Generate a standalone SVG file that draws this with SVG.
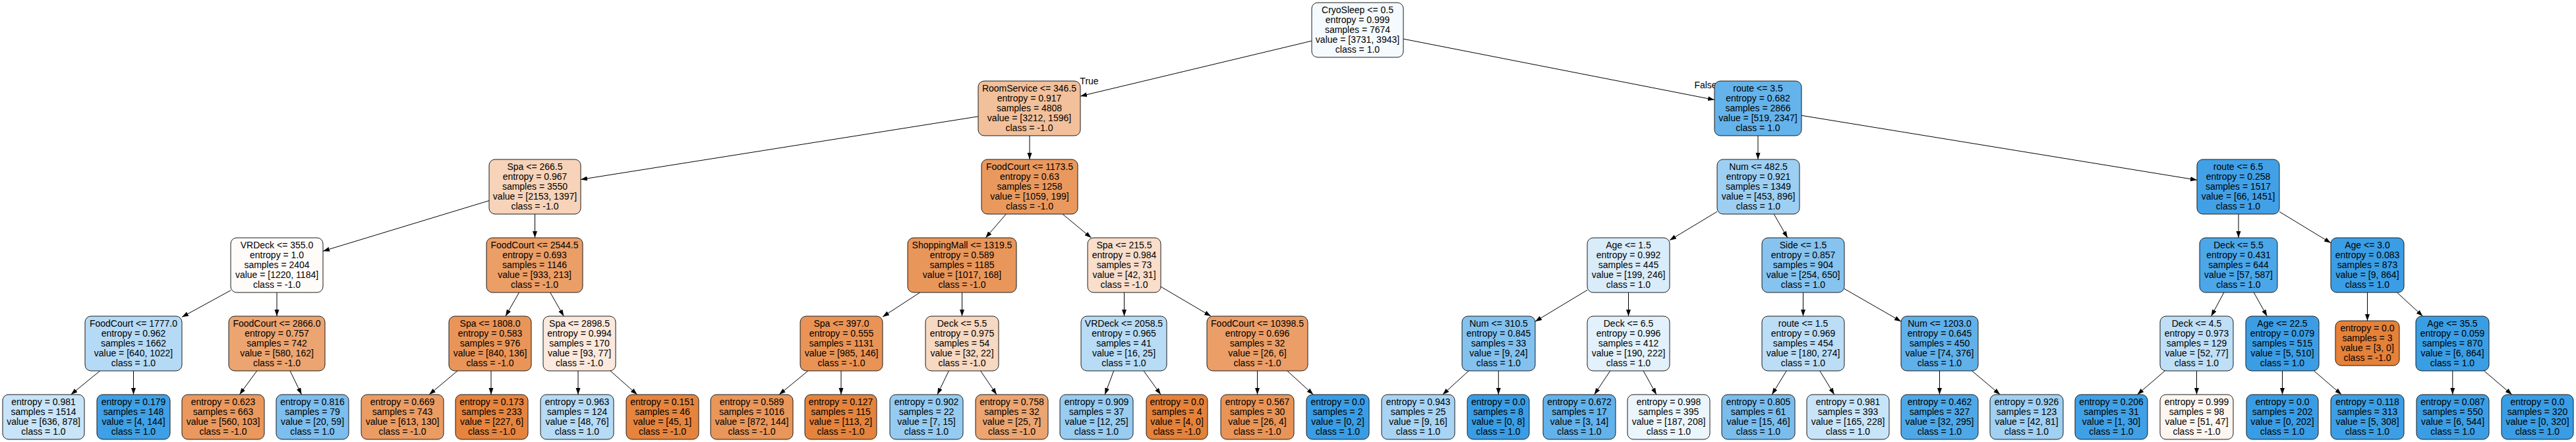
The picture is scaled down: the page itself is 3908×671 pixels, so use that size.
<svg xmlns="http://www.w3.org/2000/svg" width="3908" height="671" viewBox="0 0 3908 671">
<style>
.node rect{stroke:#1a1a1a;stroke-width:1}
text{font-family:"Liberation Sans",Arial,Helvetica,sans-serif;font-size:14px;text-anchor:middle;fill:#000}
.edges line{stroke:#000;stroke-width:1;marker-end:url(#arr)}
</style>
<defs>
<marker id="arr" markerUnits="userSpaceOnUse" markerWidth="10" markerHeight="8" refX="10" refY="3.5" orient="auto">
<path d="M0,0 L10,3.5 L0,7 z" fill="#000"/>
</marker>
</defs>
<rect width="3908" height="671" fill="#fff"/>
<g id="connectors" class="edges">
<line x1="1990" y1="62.1" x2="1639" y2="146"/>
<line x1="2129" y1="59.1" x2="2601" y2="151.6"/>
<line x1="1484" y1="176.8" x2="881" y2="272.5"/>
<line x1="1562" y1="206" x2="1562" y2="242"/>
<line x1="2667" y1="206" x2="2667" y2="242"/>
<line x1="2733" y1="175.3" x2="3333" y2="273.3"/>
<line x1="742" y1="304.6" x2="490" y2="381.2"/>
<line x1="811.5" y1="325" x2="811.5" y2="361"/>
<line x1="1526.3" y1="325" x2="1495.2" y2="361"/>
<line x1="1612" y1="325" x2="1655.5" y2="361"/>
<line x1="2605" y1="321.3" x2="2533" y2="364.7"/>
<line x1="2691.2" y1="325" x2="2711.8" y2="361"/>
<line x1="3396" y1="325" x2="3396" y2="361"/>
<line x1="3458" y1="321.4" x2="3536" y2="368.8"/>
<line x1="350" y1="440.8" x2="276" y2="481.3"/>
<line x1="420" y1="444" x2="420" y2="480"/>
<line x1="787.5" y1="444" x2="767" y2="480"/>
<line x1="834.7" y1="444" x2="855.3" y2="480"/>
<line x1="1395.7" y1="444" x2="1339" y2="480.9"/>
<line x1="1459.5" y1="444" x2="1459.5" y2="480"/>
<line x1="1705.5" y1="444" x2="1705.5" y2="480"/>
<line x1="1761" y1="435.2" x2="1837.1" y2="480"/>
<line x1="2408" y1="440.3" x2="2329" y2="488"/>
<line x1="2470.5" y1="444" x2="2470.5" y2="480"/>
<line x1="2735.5" y1="444" x2="2735.5" y2="480"/>
<line x1="2798" y1="438.4" x2="2884" y2="487.9"/>
<line x1="3373.9" y1="444" x2="3354.6" y2="480"/>
<line x1="3419.2" y1="444" x2="3439.3" y2="480"/>
<line x1="3591.5" y1="444" x2="3591.5" y2="487"/>
<line x1="3636.5" y1="444" x2="3675.5" y2="480"/>
<line x1="151.7" y1="563" x2="107.6" y2="599"/>
<line x1="202.5" y1="563" x2="202.5" y2="599"/>
<line x1="389.7" y1="563" x2="363.4" y2="599"/>
<line x1="440.1" y1="563" x2="457.5" y2="599"/>
<line x1="694" y1="563" x2="651.1" y2="599"/>
<line x1="745" y1="563" x2="745" y2="599"/>
<line x1="877" y1="563" x2="877" y2="599"/>
<line x1="925.9" y1="563" x2="966.6" y2="599"/>
<line x1="1225.9" y1="563" x2="1182" y2="599"/>
<line x1="1276" y1="563" x2="1276" y2="599"/>
<line x1="1439.4" y1="563" x2="1422" y2="599"/>
<line x1="1487.6" y1="563" x2="1512" y2="599"/>
<line x1="1689.6" y1="563" x2="1676.2" y2="599"/>
<line x1="1735" y1="563" x2="1761" y2="599"/>
<line x1="1907.5" y1="563" x2="1907.5" y2="599"/>
<line x1="1952.9" y1="563" x2="1992.3" y2="599"/>
<line x1="2228.1" y1="563" x2="2188.7" y2="599"/>
<line x1="2273.3" y1="563" x2="2273.3" y2="599"/>
<line x1="2442.8" y1="563" x2="2418.7" y2="599"/>
<line x1="2493.2" y1="563" x2="2512.9" y2="599"/>
<line x1="2710.2" y1="563" x2="2688.2" y2="599"/>
<line x1="2760.8" y1="563" x2="2782.8" y2="599"/>
<line x1="2942.5" y1="563" x2="2942.5" y2="599"/>
<line x1="2991.6" y1="563" x2="3034.3" y2="599"/>
<line x1="3284.3" y1="563" x2="3242.5" y2="599"/>
<line x1="3332.5" y1="563" x2="3332.5" y2="599"/>
<line x1="3462.5" y1="563" x2="3462.5" y2="599"/>
<line x1="3510.5" y1="563" x2="3552.2" y2="599"/>
<line x1="3720.8" y1="563" x2="3720.8" y2="599"/>
<line x1="3768.5" y1="563" x2="3810.8" y2="599"/>
<text x="1652.5" y="128">True</text>
<text x="2587.5" y="134">False</text>
</g>
<g id="n0" class="node"><rect x="1990" y="4" width="139" height="83" rx="9" fill="#f4fafe"/><text x="2059.5" y="20">CryoSleep &lt;= 0.5<tspan x="2059.5" dy="15">entropy = 0.999</tspan><tspan x="2059.5" dy="15">samples = 7674</tspan><tspan x="2059.5" dy="15">value = [3731, 3943]</tspan><tspan x="2059.5" dy="15">class = 1.0</tspan></text></g>
<g id="n1" class="node"><rect x="1484" y="123" width="155" height="83" rx="9" fill="#f2c09b"/><text x="1561.5" y="139">RoomService &lt;= 346.5<tspan x="1561.5" dy="15">entropy = 0.917</tspan><tspan x="1561.5" dy="15">samples = 4808</tspan><tspan x="1561.5" dy="15">value = [3212, 1596]</tspan><tspan x="1561.5" dy="15">class = -1.0</tspan></text></g>
<g id="n2" class="node"><rect x="2601" y="123" width="132" height="83" rx="9" fill="#65b3eb"/><text x="2667" y="139">route &lt;= 3.5<tspan x="2667" dy="15">entropy = 0.682</tspan><tspan x="2667" dy="15">samples = 2866</tspan><tspan x="2667" dy="15">value = [519, 2347]</tspan><tspan x="2667" dy="15">class = 1.0</tspan></text></g>
<g id="n3" class="node"><rect x="742" y="242" width="139" height="83" rx="9" fill="#f6d3b9"/><text x="811.5" y="258">Spa &lt;= 266.5<tspan x="811.5" dy="15">entropy = 0.967</tspan><tspan x="811.5" dy="15">samples = 3550</tspan><tspan x="811.5" dy="15">value = [2153, 1397]</tspan><tspan x="811.5" dy="15">class = -1.0</tspan></text></g>
<g id="n4" class="node"><rect x="1489" y="242" width="146" height="83" rx="9" fill="#ea995e"/><text x="1562" y="258">FoodCourt &lt;= 1173.5<tspan x="1562" dy="15">entropy = 0.63</tspan><tspan x="1562" dy="15">samples = 1258</tspan><tspan x="1562" dy="15">value = [1059, 199]</tspan><tspan x="1562" dy="15">class = -1.0</tspan></text></g>
<g id="n5" class="node"><rect x="2605" y="242" width="125" height="83" rx="9" fill="#9dcff2"/><text x="2667.5" y="258">Num &lt;= 482.5<tspan x="2667.5" dy="15">entropy = 0.921</tspan><tspan x="2667.5" dy="15">samples = 1349</tspan><tspan x="2667.5" dy="15">value = [453, 896]</tspan><tspan x="2667.5" dy="15">class = 1.0</tspan></text></g>
<g id="n6" class="node"><rect x="3333" y="242" width="125" height="83" rx="9" fill="#42a1e6"/><text x="3395.5" y="258">route &lt;= 6.5<tspan x="3395.5" dy="15">entropy = 0.258</tspan><tspan x="3395.5" dy="15">samples = 1517</tspan><tspan x="3395.5" dy="15">value = [66, 1451]</tspan><tspan x="3395.5" dy="15">class = 1.0</tspan></text></g>
<g id="n7" class="node"><rect x="350" y="361" width="140" height="83" rx="9" fill="#fefbf9"/><text x="420" y="377">VRDeck &lt;= 355.0<tspan x="420" dy="15">entropy = 1.0</tspan><tspan x="420" dy="15">samples = 2404</tspan><tspan x="420" dy="15">value = [1220, 1184]</tspan><tspan x="420" dy="15">class = -1.0</tspan></text></g>
<g id="n8" class="node"><rect x="738" y="361" width="146" height="83" rx="9" fill="#eb9e66"/><text x="811" y="377">FoodCourt &lt;= 2544.5<tspan x="811" dy="15">entropy = 0.693</tspan><tspan x="811" dy="15">samples = 1146</tspan><tspan x="811" dy="15">value = [933, 213]</tspan><tspan x="811" dy="15">class = -1.0</tspan></text></g>
<g id="n9" class="node"><rect x="1377" y="361" width="165" height="83" rx="9" fill="#e9965a"/><text x="1459.5" y="377">ShoppingMall &lt;= 1319.5<tspan x="1459.5" dy="15">entropy = 0.589</tspan><tspan x="1459.5" dy="15">samples = 1185</tspan><tspan x="1459.5" dy="15">value = [1017, 168]</tspan><tspan x="1459.5" dy="15">class = -1.0</tspan></text></g>
<g id="n10" class="node"><rect x="1650" y="361" width="111" height="83" rx="9" fill="#f8decb"/><text x="1705.5" y="377">Spa &lt;= 215.5<tspan x="1705.5" dy="15">entropy = 0.984</tspan><tspan x="1705.5" dy="15">samples = 73</tspan><tspan x="1705.5" dy="15">value = [42, 31]</tspan><tspan x="1705.5" dy="15">class = -1.0</tspan></text></g>
<g id="n11" class="node"><rect x="2408" y="361" width="125" height="83" rx="9" fill="#d9ecfa"/><text x="2470.5" y="377">Age &lt;= 1.5<tspan x="2470.5" dy="15">entropy = 0.992</tspan><tspan x="2470.5" dy="15">samples = 445</tspan><tspan x="2470.5" dy="15">value = [199, 246]</tspan><tspan x="2470.5" dy="15">class = 1.0</tspan></text></g>
<g id="n12" class="node"><rect x="2673" y="361" width="125" height="83" rx="9" fill="#86c3ef"/><text x="2735.5" y="377">Side &lt;= 1.5<tspan x="2735.5" dy="15">entropy = 0.857</tspan><tspan x="2735.5" dy="15">samples = 904</tspan><tspan x="2735.5" dy="15">value = [254, 650]</tspan><tspan x="2735.5" dy="15">class = 1.0</tspan></text></g>
<g id="n13" class="node"><rect x="3337" y="361" width="118" height="83" rx="9" fill="#4ca7e8"/><text x="3396" y="377">Deck &lt;= 5.5<tspan x="3396" dy="15">entropy = 0.431</tspan><tspan x="3396" dy="15">samples = 644</tspan><tspan x="3396" dy="15">value = [57, 587]</tspan><tspan x="3396" dy="15">class = 1.0</tspan></text></g>
<g id="n14" class="node"><rect x="3536" y="361" width="111" height="83" rx="9" fill="#3b9ee5"/><text x="3591.5" y="377">Age &lt;= 3.0<tspan x="3591.5" dy="15">entropy = 0.083</tspan><tspan x="3591.5" dy="15">samples = 873</tspan><tspan x="3591.5" dy="15">value = [9, 864]</tspan><tspan x="3591.5" dy="15">class = 1.0</tspan></text></g>
<g id="n15" class="node"><rect x="129" y="480" width="147" height="83" rx="9" fill="#b5daf5"/><text x="202.5" y="496">FoodCourt &lt;= 1777.0<tspan x="202.5" dy="15">entropy = 0.962</tspan><tspan x="202.5" dy="15">samples = 1662</tspan><tspan x="202.5" dy="15">value = [640, 1022]</tspan><tspan x="202.5" dy="15">class = 1.0</tspan></text></g>
<g id="n16" class="node"><rect x="347" y="480" width="146" height="83" rx="9" fill="#eca470"/><text x="420" y="496">FoodCourt &lt;= 2866.0<tspan x="420" dy="15">entropy = 0.757</tspan><tspan x="420" dy="15">samples = 742</tspan><tspan x="420" dy="15">value = [580, 162]</tspan><tspan x="420" dy="15">class = -1.0</tspan></text></g>
<g id="n17" class="node"><rect x="681" y="480" width="125" height="83" rx="9" fill="#e99559"/><text x="743.5" y="496">Spa &lt;= 1808.0<tspan x="743.5" dy="15">entropy = 0.583</tspan><tspan x="743.5" dy="15">samples = 976</tspan><tspan x="743.5" dy="15">value = [840, 136]</tspan><tspan x="743.5" dy="15">class = -1.0</tspan></text></g>
<g id="n18" class="node"><rect x="824" y="480" width="110" height="83" rx="9" fill="#fbe9dd"/><text x="879" y="496">Spa &lt;= 2898.5<tspan x="879" dy="15">entropy = 0.994</tspan><tspan x="879" dy="15">samples = 170</tspan><tspan x="879" dy="15">value = [93, 77]</tspan><tspan x="879" dy="15">class = -1.0</tspan></text></g>
<g id="n19" class="node"><rect x="1214" y="480" width="125" height="83" rx="9" fill="#e99456"/><text x="1276.5" y="496">Spa &lt;= 397.0<tspan x="1276.5" dy="15">entropy = 0.555</tspan><tspan x="1276.5" dy="15">samples = 1131</tspan><tspan x="1276.5" dy="15">value = [985, 146]</tspan><tspan x="1276.5" dy="15">class = -1.0</tspan></text></g>
<g id="n20" class="node"><rect x="1404" y="480" width="111" height="83" rx="9" fill="#f7d8c1"/><text x="1459.5" y="496">Deck &lt;= 5.5<tspan x="1459.5" dy="15">entropy = 0.975</tspan><tspan x="1459.5" dy="15">samples = 54</tspan><tspan x="1459.5" dy="15">value = [32, 22]</tspan><tspan x="1459.5" dy="15">class = -1.0</tspan></text></g>
<g id="n21" class="node"><rect x="1640" y="480" width="130" height="83" rx="9" fill="#b8dcf6"/><text x="1705" y="496">VRDeck &lt;= 2058.5<tspan x="1705" dy="15">entropy = 0.965</tspan><tspan x="1705" dy="15">samples = 41</tspan><tspan x="1705" dy="15">value = [16, 25]</tspan><tspan x="1705" dy="15">class = 1.0</tspan></text></g>
<g id="n22" class="node"><rect x="1831" y="480" width="153" height="83" rx="9" fill="#eb9e67"/><text x="1907.5" y="496">FoodCourt &lt;= 10398.5<tspan x="1907.5" dy="15">entropy = 0.696</tspan><tspan x="1907.5" dy="15">samples = 32</tspan><tspan x="1907.5" dy="15">value = [26, 6]</tspan><tspan x="1907.5" dy="15">class = -1.0</tspan></text></g>
<g id="n23" class="node"><rect x="2218" y="480" width="111" height="83" rx="9" fill="#83c2ef"/><text x="2273.5" y="496">Num &lt;= 310.5<tspan x="2273.5" dy="15">entropy = 0.845</tspan><tspan x="2273.5" dy="15">samples = 33</tspan><tspan x="2273.5" dy="15">value = [9, 24]</tspan><tspan x="2273.5" dy="15">class = 1.0</tspan></text></g>
<g id="n24" class="node"><rect x="2408" y="480" width="125" height="83" rx="9" fill="#e2f1fb"/><text x="2470.5" y="496">Deck &lt;= 6.5<tspan x="2470.5" dy="15">entropy = 0.996</tspan><tspan x="2470.5" dy="15">samples = 412</tspan><tspan x="2470.5" dy="15">value = [190, 222]</tspan><tspan x="2470.5" dy="15">class = 1.0</tspan></text></g>
<g id="n25" class="node"><rect x="2673" y="480" width="125" height="83" rx="9" fill="#bbddf6"/><text x="2735.5" y="496">route &lt;= 1.5<tspan x="2735.5" dy="15">entropy = 0.969</tspan><tspan x="2735.5" dy="15">samples = 454</tspan><tspan x="2735.5" dy="15">value = [180, 274]</tspan><tspan x="2735.5" dy="15">class = 1.0</tspan></text></g>
<g id="n26" class="node"><rect x="2884" y="480" width="117" height="83" rx="9" fill="#60b0ea"/><text x="2942.5" y="496">Num &lt;= 1203.0<tspan x="2942.5" dy="15">entropy = 0.645</tspan><tspan x="2942.5" dy="15">samples = 450</tspan><tspan x="2942.5" dy="15">value = [74, 376]</tspan><tspan x="2942.5" dy="15">class = 1.0</tspan></text></g>
<g id="n27" class="node"><rect x="3277" y="480" width="111" height="83" rx="9" fill="#bfdff7"/><text x="3332.5" y="496">Deck &lt;= 4.5<tspan x="3332.5" dy="15">entropy = 0.973</tspan><tspan x="3332.5" dy="15">samples = 129</tspan><tspan x="3332.5" dy="15">value = [52, 77]</tspan><tspan x="3332.5" dy="15">class = 1.0</tspan></text></g>
<g id="n28" class="node"><rect x="3407" y="480" width="111" height="83" rx="9" fill="#3b9ee5"/><text x="3462.5" y="496">Age &lt;= 22.5<tspan x="3462.5" dy="15">entropy = 0.079</tspan><tspan x="3462.5" dy="15">samples = 515</tspan><tspan x="3462.5" dy="15">value = [5, 510]</tspan><tspan x="3462.5" dy="15">class = 1.0</tspan></text></g>
<g id="n29" class="node"><rect x="3543" y="487" width="97" height="68" rx="9" fill="#e58139"/><text x="3591.5" y="503">entropy = 0.0<tspan x="3591.5" dy="15">samples = 3</tspan><tspan x="3591.5" dy="15">value = [3, 0]</tspan><tspan x="3591.5" dy="15">class = -1.0</tspan></text></g>
<g id="n30" class="node"><rect x="3665" y="480" width="111" height="83" rx="9" fill="#3a9ee5"/><text x="3720.5" y="496">Age &lt;= 35.5<tspan x="3720.5" dy="15">entropy = 0.059</tspan><tspan x="3720.5" dy="15">samples = 870</tspan><tspan x="3720.5" dy="15">value = [6, 864]</tspan><tspan x="3720.5" dy="15">class = 1.0</tspan></text></g>
<g id="n31" class="node"><rect x="4" y="599" width="124" height="68" rx="9" fill="#c8e4f8"/><text x="66" y="615">entropy = 0.981<tspan x="66" dy="15">samples = 1514</tspan><tspan x="66" dy="15">value = [636, 878]</tspan><tspan x="66" dy="15">class = 1.0</tspan></text></g>
<g id="n32" class="node"><rect x="147" y="599" width="111" height="68" rx="9" fill="#3ea0e6"/><text x="202.5" y="615">entropy = 0.179<tspan x="202.5" dy="15">samples = 148</tspan><tspan x="202.5" dy="15">value = [4, 144]</tspan><tspan x="202.5" dy="15">class = 1.0</tspan></text></g>
<g id="n33" class="node"><rect x="276" y="599" width="125" height="68" rx="9" fill="#ea985d"/><text x="338.5" y="615">entropy = 0.623<tspan x="338.5" dy="15">samples = 663</tspan><tspan x="338.5" dy="15">value = [560, 103]</tspan><tspan x="338.5" dy="15">class = -1.0</tspan></text></g>
<g id="n34" class="node"><rect x="419" y="599" width="110" height="68" rx="9" fill="#7cbeee"/><text x="474" y="615">entropy = 0.816<tspan x="474" dy="15">samples = 79</tspan><tspan x="474" dy="15">value = [20, 59]</tspan><tspan x="474" dy="15">class = 1.0</tspan></text></g>
<g id="n35" class="node"><rect x="548" y="599" width="125" height="68" rx="9" fill="#eb9c63"/><text x="610.5" y="615">entropy = 0.669<tspan x="610.5" dy="15">samples = 743</tspan><tspan x="610.5" dy="15">value = [613, 130]</tspan><tspan x="610.5" dy="15">class = -1.0</tspan></text></g>
<g id="n36" class="node"><rect x="691" y="599" width="110" height="68" rx="9" fill="#e6843e"/><text x="746" y="615">entropy = 0.173<tspan x="746" dy="15">samples = 233</tspan><tspan x="746" dy="15">value = [227, 6]</tspan><tspan x="746" dy="15">class = -1.0</tspan></text></g>
<g id="n37" class="node"><rect x="820" y="599" width="111" height="68" rx="9" fill="#b6dbf5"/><text x="875.5" y="615">entropy = 0.963<tspan x="875.5" dy="15">samples = 124</tspan><tspan x="875.5" dy="15">value = [48, 76]</tspan><tspan x="875.5" dy="15">class = 1.0</tspan></text></g>
<g id="n38" class="node"><rect x="950" y="599" width="110" height="68" rx="9" fill="#e6843d"/><text x="1005" y="615">entropy = 0.151<tspan x="1005" dy="15">samples = 46</tspan><tspan x="1005" dy="15">value = [45, 1]</tspan><tspan x="1005" dy="15">class = -1.0</tspan></text></g>
<g id="n39" class="node"><rect x="1078" y="599" width="125" height="68" rx="9" fill="#e9965a"/><text x="1140.5" y="615">entropy = 0.589<tspan x="1140.5" dy="15">samples = 1016</tspan><tspan x="1140.5" dy="15">value = [872, 144]</tspan><tspan x="1140.5" dy="15">class = -1.0</tspan></text></g>
<g id="n40" class="node"><rect x="1221" y="599" width="109" height="68" rx="9" fill="#e5833c"/><text x="1275.5" y="615">entropy = 0.127<tspan x="1275.5" dy="15">samples = 115</tspan><tspan x="1275.5" dy="15">value = [113, 2]</tspan><tspan x="1275.5" dy="15">class = -1.0</tspan></text></g>
<g id="n41" class="node"><rect x="1350" y="599" width="111" height="68" rx="9" fill="#95cbf1"/><text x="1405.5" y="615">entropy = 0.902<tspan x="1405.5" dy="15">samples = 22</tspan><tspan x="1405.5" dy="15">value = [7, 15]</tspan><tspan x="1405.5" dy="15">class = 1.0</tspan></text></g>
<g id="n42" class="node"><rect x="1480" y="599" width="110" height="68" rx="9" fill="#eca470"/><text x="1535" y="615">entropy = 0.758<tspan x="1535" dy="15">samples = 32</tspan><tspan x="1535" dy="15">value = [25, 7]</tspan><tspan x="1535" dy="15">class = -1.0</tspan></text></g>
<g id="n43" class="node"><rect x="1608" y="599" width="111" height="68" rx="9" fill="#98ccf1"/><text x="1663.5" y="615">entropy = 0.909<tspan x="1663.5" dy="15">samples = 37</tspan><tspan x="1663.5" dy="15">value = [12, 25]</tspan><tspan x="1663.5" dy="15">class = 1.0</tspan></text></g>
<g id="n44" class="node"><rect x="1739" y="599" width="93" height="68" rx="9" fill="#e58139"/><text x="1785.5" y="615">entropy = 0.0<tspan x="1785.5" dy="15">samples = 4</tspan><tspan x="1785.5" dy="15">value = [4, 0]</tspan><tspan x="1785.5" dy="15">class = -1.0</tspan></text></g>
<g id="n45" class="node"><rect x="1852" y="599" width="111" height="68" rx="9" fill="#e99457"/><text x="1907.5" y="615">entropy = 0.567<tspan x="1907.5" dy="15">samples = 30</tspan><tspan x="1907.5" dy="15">value = [26, 4]</tspan><tspan x="1907.5" dy="15">class = -1.0</tspan></text></g>
<g id="n46" class="node"><rect x="1982" y="599" width="95" height="68" rx="9" fill="#399de5"/><text x="2029.5" y="615">entropy = 0.0<tspan x="2029.5" dy="15">samples = 2</tspan><tspan x="2029.5" dy="15">value = [0, 2]</tspan><tspan x="2029.5" dy="15">class = 1.0</tspan></text></g>
<g id="n47" class="node"><rect x="2096" y="599" width="111" height="68" rx="9" fill="#a8d4f4"/><text x="2151.5" y="615">entropy = 0.943<tspan x="2151.5" dy="15">samples = 25</tspan><tspan x="2151.5" dy="15">value = [9, 16]</tspan><tspan x="2151.5" dy="15">class = 1.0</tspan></text></g>
<g id="n48" class="node"><rect x="2226" y="599" width="94" height="68" rx="9" fill="#399de5"/><text x="2273" y="615">entropy = 0.0<tspan x="2273" dy="15">samples = 8</tspan><tspan x="2273" dy="15">value = [0, 8]</tspan><tspan x="2273" dy="15">class = 1.0</tspan></text></g>
<g id="n49" class="node"><rect x="2341" y="599" width="110" height="68" rx="9" fill="#63b2eb"/><text x="2396" y="615">entropy = 0.672<tspan x="2396" dy="15">samples = 17</tspan><tspan x="2396" dy="15">value = [3, 14]</tspan><tspan x="2396" dy="15">class = 1.0</tspan></text></g>
<g id="n50" class="node"><rect x="2469" y="599" width="125" height="68" rx="9" fill="#ebf5fc"/><text x="2531.5" y="615">entropy = 0.998<tspan x="2531.5" dy="15">samples = 395</tspan><tspan x="2531.5" dy="15">value = [187, 208]</tspan><tspan x="2531.5" dy="15">class = 1.0</tspan></text></g>
<g id="n51" class="node"><rect x="2612" y="599" width="111" height="68" rx="9" fill="#7abded"/><text x="2667.5" y="615">entropy = 0.805<tspan x="2667.5" dy="15">samples = 61</tspan><tspan x="2667.5" dy="15">value = [15, 46]</tspan><tspan x="2667.5" dy="15">class = 1.0</tspan></text></g>
<g id="n52" class="node"><rect x="2741" y="599" width="125" height="68" rx="9" fill="#c8e4f8"/><text x="2803.5" y="615">entropy = 0.981<tspan x="2803.5" dy="15">samples = 393</tspan><tspan x="2803.5" dy="15">value = [165, 228]</tspan><tspan x="2803.5" dy="15">class = 1.0</tspan></text></g>
<g id="n53" class="node"><rect x="2884" y="599" width="117" height="68" rx="9" fill="#4ea8e8"/><text x="2942.5" y="615">entropy = 0.462<tspan x="2942.5" dy="15">samples = 327</tspan><tspan x="2942.5" dy="15">value = [32, 295]</tspan><tspan x="2942.5" dy="15">class = 1.0</tspan></text></g>
<g id="n54" class="node"><rect x="3019" y="599" width="111" height="68" rx="9" fill="#a0d0f2"/><text x="3074.5" y="615">entropy = 0.926<tspan x="3074.5" dy="15">samples = 123</tspan><tspan x="3074.5" dy="15">value = [42, 81]</tspan><tspan x="3074.5" dy="15">class = 1.0</tspan></text></g>
<g id="n55" class="node"><rect x="3148" y="599" width="110" height="68" rx="9" fill="#40a0e6"/><text x="3203" y="615">entropy = 0.206<tspan x="3203" dy="15">samples = 31</tspan><tspan x="3203" dy="15">value = [1, 30]</tspan><tspan x="3203" dy="15">class = 1.0</tspan></text></g>
<g id="n56" class="node"><rect x="3277" y="599" width="111" height="68" rx="9" fill="#fdf5ef"/><text x="3332.5" y="615">entropy = 0.999<tspan x="3332.5" dy="15">samples = 98</tspan><tspan x="3332.5" dy="15">value = [51, 47]</tspan><tspan x="3332.5" dy="15">class = -1.0</tspan></text></g>
<g id="n57" class="node"><rect x="3408" y="599" width="109" height="68" rx="9" fill="#399de5"/><text x="3462.5" y="615">entropy = 0.0<tspan x="3462.5" dy="15">samples = 202</tspan><tspan x="3462.5" dy="15">value = [0, 202]</tspan><tspan x="3462.5" dy="15">class = 1.0</tspan></text></g>
<g id="n58" class="node"><rect x="3536" y="599" width="111" height="68" rx="9" fill="#3c9fe5"/><text x="3591.5" y="615">entropy = 0.118<tspan x="3591.5" dy="15">samples = 313</tspan><tspan x="3591.5" dy="15">value = [5, 308]</tspan><tspan x="3591.5" dy="15">class = 1.0</tspan></text></g>
<g id="n59" class="node"><rect x="3666" y="599" width="110" height="68" rx="9" fill="#3b9ee5"/><text x="3721" y="615">entropy = 0.087<tspan x="3721" dy="15">samples = 550</tspan><tspan x="3721" dy="15">value = [6, 544]</tspan><tspan x="3721" dy="15">class = 1.0</tspan></text></g>
<g id="n60" class="node"><rect x="3795" y="599" width="109" height="68" rx="9" fill="#399de5"/><text x="3849.5" y="615">entropy = 0.0<tspan x="3849.5" dy="15">samples = 320</tspan><tspan x="3849.5" dy="15">value = [0, 320]</tspan><tspan x="3849.5" dy="15">class = 1.0</tspan></text></g>
</svg>
